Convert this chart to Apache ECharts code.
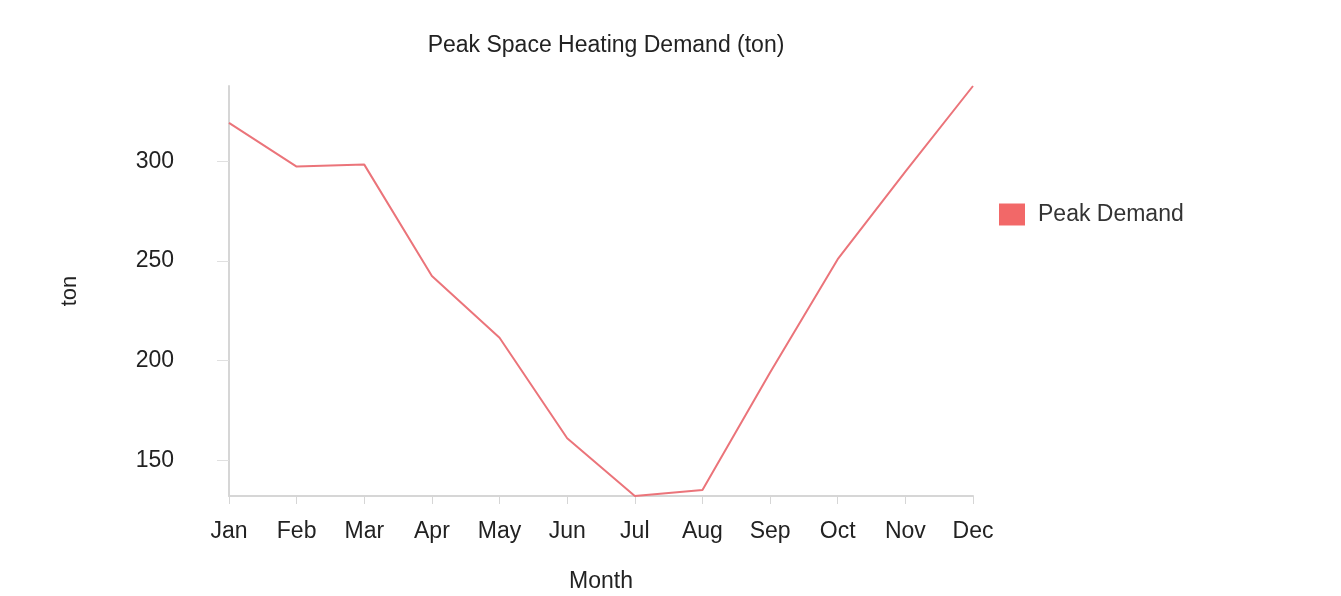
<!DOCTYPE html>
<html>
<head>
<meta charset="utf-8">
<script src="https://cdn.jsdelivr.net/npm/echarts@6/dist/echarts.min.js"></script>
<style>
  html, body { margin: 0; padding: 0; background: #fff; }
  #main { width: 1341px; height: 596px; }
</style>
</head>
<body>
<div id="main"></div>
<script>
// data
var months = ['Jan', 'Feb', 'Mar', 'Apr', 'May', 'Jun', 'Jul', 'Aug', 'Sep', 'Oct', 'Nov', 'Dec']
var peakDemand = [319.5, 297.5, 298.5, 242.5, 211.5, 161, 132, 135, 194, 251, 295, 338]

var font = 'Liberation Sans, Arial, sans-serif'
var chart = echarts.init(document.getElementById('main'))

var option = {
  animation: false,
  title: {
    text: 'Peak Space Heating Demand (ton)',
    left: 601,
    textAlign: 'center',
    top: 29,
    textStyle: { fontFamily: font, fontSize: 23, fontWeight: 'normal', color: '#222' }
  },
  legend: {
    orient: 'vertical',
    left: 994,
    top: 198,
    icon: 'rect',
    itemWidth: 26,
    itemHeight: 22,
    textStyle: { fontFamily: font, fontSize: 23, color: '#333', padding: [0, 0, 0, 8] },
    data: ['Peak Demand']
  },
  grid: {
    left: 229,
    right: 368,
    top: 86,
    bottom: 100,
    outerBoundsMode: 'none'
  },
  xAxis: {
    type: 'category',
    data: months,
    boundaryGap: false,
    name: 'Month',
    nameLocation: 'middle',
    nameGap: 74,
    nameTextStyle: { fontFamily: font, fontSize: 23, color: '#222' },
    axisLine: { lineStyle: { color: '#d6d6d6', width: 2 } },
    axisTick: { length: 8, lineStyle: { color: '#d6d6d6' } },
    axisLabel: { fontFamily: font, fontSize: 23, color: '#222', margin: 24 }
  },
  yAxis: {
    type: 'value',
    min: 'dataMin',
    max: 'dataMax',
    name: 'ton',
    nameLocation: 'middle',
    nameGap: 148,
    nameTextStyle: { fontFamily: font, fontSize: 22, color: '#222' },
    splitLine: { show: false },
    axisLine: { show: true, lineStyle: { color: '#d6d6d6', width: 2 } },
    axisTick: { show: true, length: 12, lineStyle: { color: '#e0e0e0' } },
    axisLabel: {
      fontFamily: font, fontSize: 23, color: '#222', margin: 55,
      showMinLabel: false, showMaxLabel: false
    }
  },
  series: [
    {
      name: 'Peak Demand',
      type: 'line',
      data: peakDemand,
      showSymbol: false,
      itemStyle: { color: '#f26868' },
      lineStyle: { color: '#eb747a', width: 2 }
    }
  ]
}

chart.setOption(option)
</script>
</body>
</html>
